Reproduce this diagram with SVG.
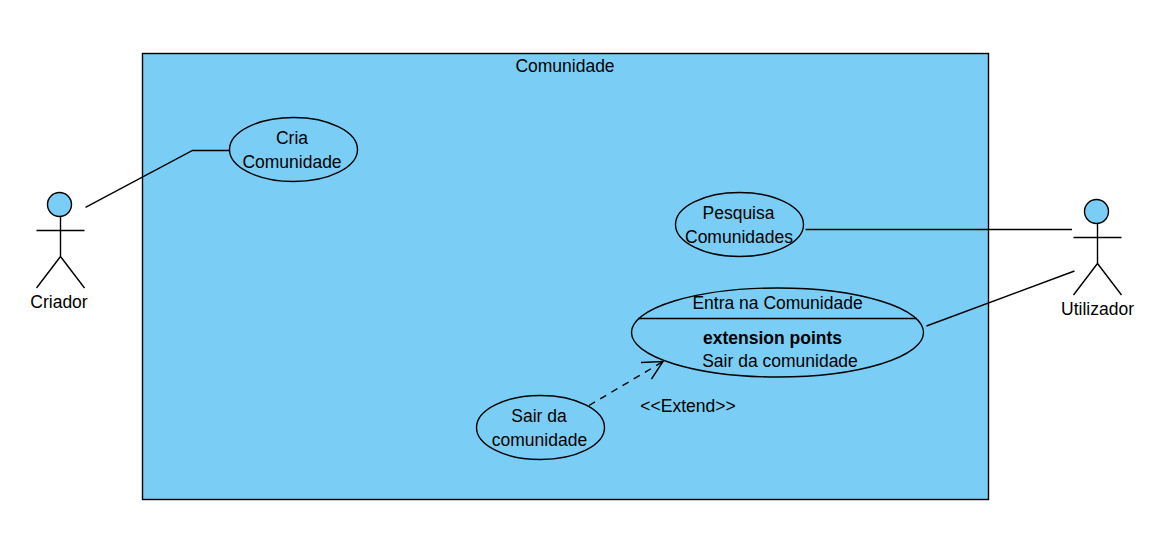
<svg xmlns="http://www.w3.org/2000/svg" width="1165" height="546" viewBox="0 0 1165 546">
<style>
.s{fill:#7acdf4;stroke:#000;stroke-width:1.4}
.l{fill:none;stroke:#000;stroke-width:1.4}
text{font-family:Arial,"Liberation Sans",sans-serif;font-size:17.5px;fill:#000;text-anchor:middle}
.b{font-weight:bold}
</style>
<rect width="1165" height="546" fill="#fff"/>
<g id="system"><rect class="s" x="142.500" y="53.500" width="846" height="446"/><text x="565" y="71.500">Comunidade</text></g>
<g id="connectors">
<path class="l" d="M85.500 207.300L192.500 150.500H230"/>
<path class="l" d="M805.500 229.500H1072"/>
<path class="l" d="M926.500 326L1074.500 271"/>
<path class="l" d="M589 405.500L664 361" stroke-dasharray="7 6"/>
<path class="l" d="M641 362.500L663 361.500L651.500 379"/>
</g>
<g id="criador"><circle class="s" cx="59.500" cy="204.500" r="12"/><path class="l" d="M60.500 216.500V256.500M36.500 230.500H84.500M36.500 288L60.500 256.500L84.500 288"/><text x="59" y="308">Criador</text></g>
<g id="utilizador"><circle class="s" cx="1096.500" cy="211.500" r="12"/><path class="l" d="M1097.500 223.500V263.500M1073.500 237.500H1121.500M1073.500 295L1097.500 263.500L1121.500 295"/><text x="1097.500" y="315">Utilizador</text></g>
<g id="cria"><ellipse class="s" cx="293.500" cy="149.500" rx="64" ry="32"/><text x="292" y="144">Cria</text><text x="292" y="168">Comunidade</text></g>
<g id="pesquisa"><ellipse class="s" cx="739.500" cy="224.500" rx="64" ry="32"/><text x="738.500" y="219">Pesquisa</text><text x="739" y="243">Comunidades</text></g>
<g id="entra"><ellipse class="s" cx="777.500" cy="332.500" rx="146" ry="44.500"/><path class="l" d="M638 318.500H917"/><text x="777.500" y="309">Entra na Comunidade</text><text class="b" x="772.500" y="344">extension points</text><text x="780" y="367">Sair da comunidade</text></g>
<g id="sair"><ellipse class="s" cx="540.500" cy="427.500" rx="64" ry="32"/><text x="539" y="422">Sair da</text><text x="539.500" y="446">comunidade</text></g>
<text id="extend" x="688" y="412">&lt;&lt;Extend&gt;&gt;</text>
</svg>
